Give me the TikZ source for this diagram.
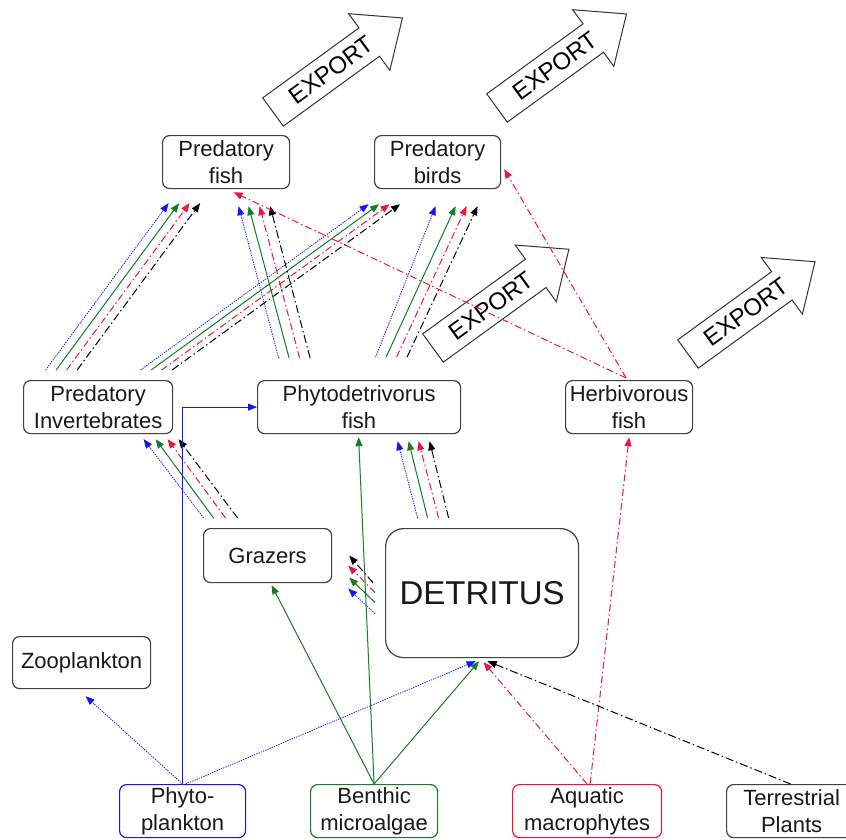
\documentclass[tikz,border=0pt]{standalone}
\usepackage{fontspec}
\setmainfont{Liberation Sans}
\usetikzlibrary{arrows.meta}
\definecolor{fgreen}{RGB}{20,125,40}
\definecolor{fred}{RGB}{240,20,60}
\definecolor{fblue}{RGB}{20,20,250}
\tikzset{
  box/.style={draw=black!75, rounded corners=7pt, line width=1.2pt, align=center,
    inner sep=0pt, anchor=north west, text=black!90,
    font=\fontsize{22}{27}\selectfont},
  tip/.style={-{Triangle[length=9pt,width=7pt]}},
  fb/.style={tip, fblue, line width=0.8pt, dash pattern=on 1.3pt off 1.1pt},
  fg/.style={tip, fgreen, line width=1pt},
  fr/.style={tip, fred, line width=1pt, dash pattern=on 7pt off 3pt on 1.5pt off 3pt},
  fk/.style={tip, black, line width=1pt, dash pattern=on 8pt off 3pt on 1.5pt off 3pt},
  fbs/.style={tip, fblue, line width=0.8pt},
  exparrow/.style={draw=black!80, line width=1pt, line join=miter},
  exptext/.style={font=\fontsize{24}{24}\selectfont, text=black, inner sep=0pt}
}
\newcommand\exportarrow[4]{%
  \begin{scope}[shift={(#2,#3)}, rotate=36]
    \draw[exparrow] (0,-17.5) -- ({#4-41},-17.5) -- ({#4-41},-35) -- (#4,0)
      -- ({#4-41},35) -- ({#4-41},17.5) -- (0,17.5) -- cycle;
    \node[exptext, rotate=36] (#1) at (72,0) {EXPORT};
  \end{scope}}
\begin{document}
\begin{tikzpicture}[x=1pt,y=-1pt]
\clip (0,0) rectangle (846,839);
\fill[white] (0,0) rectangle (846,839);

% export arrows
\exportarrow{ex1}{273}{112}{160}
\exportarrow{ex2}{497}{108}{160}
\exportarrow{ex3}{433}{348}{168}
\exportarrow{ex4}{688}{354}{157}

% boxes
\node[box, minimum width=127pt, minimum height=53pt] (pfish) at (162,135) {Predatory\\fish};
\node[box, minimum width=126pt, minimum height=53pt] (pbirds) at (374,135) {Predatory\\birds};
\node[box, minimum width=149pt, minimum height=53pt] (pinv) at (23,380) {Predatory\\Invertebrates};
\node[box, minimum width=203pt, minimum height=53pt] (pdfish) at (257,380) {Phytodetrivorus\\fish};
\node[box, minimum width=127pt, minimum height=53pt] (hfish) at (565,380) {Herbivorous\\fish};
\node[box, minimum width=128pt, minimum height=54pt] (grazers) at (203,528) {Grazers};
\node[box, minimum width=193pt, minimum height=129pt, rounded corners=18pt,
  font=\fontsize{33}{33}\selectfont] (detritus) at (385,528) {DETRITUS};
\node[box, minimum width=138pt, minimum height=52pt] (zoo) at (12,636) {Zooplankton};
\node[box, draw=fblue, minimum width=126pt, minimum height=53pt] (phyto) at (119,784) {Phyto-\\plankton};
\node[box, draw=fgreen, minimum width=127pt, minimum height=53pt] (benthic) at (310,784) {Benthic\\microalgae};
\node[box, draw=fred, minimum width=149pt, minimum height=53pt] (aquatic) at (512,784) {Aquatic\\macrophytes};
\node[box, minimum width=130pt, minimum height=53pt] (terr) at (726,784) {Terrestrial\\Plants};

% Predatory invertebrates -> predatory fish
\foreach \st/\a/\b in {fb/-52.5/-57.5, fg/-42/-47, fr/-31.5/-36.5, fk/-21/-26}
  \draw[\st] ([shift={(\a,-10)}]pinv.north) -- ([shift={(\b,14)}]pfish.south);
% Predatory invertebrates -> predatory birds
\foreach \st/\a/\b in {fb/42.5/-69, fg/53/-58.5, fr/63.5/-48, fk/74/-37.5}
  \draw[\st] ([shift={(\a,-10)}]pinv.north) -- ([shift={(\b,15)}]pbirds.south);
% Phytodetrivorus fish -> predatory fish
\foreach \st/\a/\b in {fb/-80.5/12.5, fg/-70/22.5, fr/-59.5/33.5, fk/-49/44}
  \draw[\st] ([shift={(\a,-22)}]pdfish.north) -- ([shift={(\b,17)}]pfish.south);
% Phytodetrivorus fish -> predatory birds
\foreach \st/\a/\b in {fb/16.5/-2, fg/27/18, fr/37.5/29, fk/48/40}
  \draw[\st] ([shift={(\a,-23)}]pdfish.north) -- ([shift={(\b,17)}]pbirds.south);
% Grazers -> predatory invertebrates
\foreach \st/\a/\b in {fb/-64/45.5, fg/-54/57.5, fr/-42/69.5, fk/-30/80.5}
  \draw[\st] ([shift={(\a,-10)}]grazers.north) -- ([shift={(\b,5)}]pinv.south);
% Detritus -> phytodetrivorus fish
\foreach \st/\a/\b in {fb/-64.5/38.5, fg/-54.5/49.5, fr/-43.5/59.5, fk/-33.5/70.5}
  \draw[\st] ([shift={(\a,-10)}]detritus.north) -- ([shift={(\b,7)}]pdfish.south);
% Detritus -> grazers
\foreach \st/\a/\b/\c/\d in {fb/-10/20.5/16/33, fg/-10/9.5/17/22, fr/-10/-0.5/16/10, fk/-12/-10.5/17/0}
  \draw[\st] ([shift={(\a,\b)}]detritus.west) -- ([shift={(\c,\d)}]grazers.east);
% Herbivorous fish -> predators
\draw[fr] ([shift={(-3,-2)}]hfish.north) -- ([shift={(7.5,3)}]pfish.south);
\draw[fr] ([shift={(-3,-2)}]hfish.north) -- ([shift={(3,-20)}]pbirds.south east);
% Benthic microalgae
\draw[fg] (benthic.north) -- ([shift={(4,2)}]grazers.south);
\draw[fg] (benthic.north) -- ([shift={(-0.5,3)}]pdfish.south);
\draw[fg] (benthic.north) -- ([shift={(-3,3)}]detritus.south);
% Phytoplankton
\draw[fb] (phyto.north) -- ([shift={(4,7)}]zoo.south);
\draw[fb] ([shift={(3,0)}]phyto.north) -- ([shift={(-6.5,3)}]detritus.south);
\draw[fbs] (phyto.north) |- (pdfish.west);
% Aquatic macrophytes
\draw[fr] (aquatic.north) -- ([shift={(1.5,4)}]detritus.south);
\draw[fr] ([shift={(3,0)}]aquatic.north) -- ([shift={(0,3)}]hfish.south);
% Terrestrial plants
\draw[fk] ([shift={(-1,0)}]terr.north) -- ([shift={(5.5,3)}]detritus.south);
\end{tikzpicture}
\end{document}
